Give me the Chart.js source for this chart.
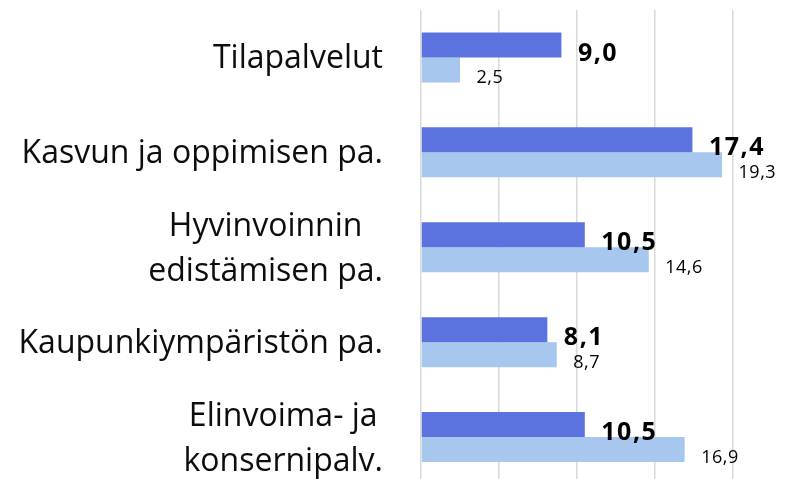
<!DOCTYPE html>
<html>
<head>
<meta charset="utf-8">
<script src="https://cdn.jsdelivr.net/npm/chart.js@4"></script>
<style>
  html, body { margin: 0; padding: 0; background: #fff; overflow: hidden; }
  #wrap { width: 805px; height: 479px; overflow: hidden; }
</style>
</head>
<body>
<div id="wrap"><canvas id="chart" width="812" height="485"></canvas></div>
<script>
// ── データ ──────────────────────────────────────────────
const categories = [
  ["Tilapalvelut"],
  ["Kasvun ja oppimisen pa."],
  ["Hyvinvoinnin", "edistämisen pa."],
  ["Kaupunkiympäristön pa."],
  ["Elinvoima- ja", "konsernipalv."],
];
const seriesA = [9.0, 17.4, 10.5, 8.1, 10.5];   // 濃い青
const seriesB = [2.5, 19.3, 14.6, 8.7, 16.9];   // 薄い青
const xTicks  = [0, 5, 10, 15, 20, 25];

const FONT = "'Open Sans', Lato, sans-serif";

// ── カテゴリラベル（複数行は中央揃え、右端揃え） ───────────
const catLabelPlugin = {
  id: "catLabels",
  afterDraw(c) {
    const ctx = c.ctx;
    const y = c.scales.y;
    const right = 383;
    const lineH = 45;
    ctx.save();
    ctx.font = `32px ${FONT}`;
    ctx.fillStyle = "#0d0d0d";
    ctx.textAlign = "center";
    ctx.textBaseline = "alphabetic";
    categories.forEach((lines, i) => {
      const cy = y.getPixelForTick(i);
      const w = Math.max(...lines.map((s) => ctx.measureText(s).width));
      const cx = right - w / 2;
      lines.forEach((s, j) => {
        const by = cy + 11 + (j - (lines.length - 1) / 2) * lineH;
        ctx.fillText(s, cx, by);
      });
    });
    ctx.restore();
  },
};

// ── 値ラベル ────────────────────────────────────────────
const valueLabelPlugin = {
  id: "valueLabels",
  afterDatasetsDraw(c) {
    const ctx = c.ctx;
    ctx.save();
    ctx.textAlign = "left";
    ctx.textBaseline = "middle";
    ctx.fillStyle = "#000";
    c.data.datasets.forEach((ds, di) => {
      const meta = c.getDatasetMeta(di);
      ctx.font = di === 0 ? `bold 25px ${FONT}` : `18px ${FONT}`;
      ctx.letterSpacing = di === 0 ? "1.5px" : "0.5px";
      const dy = di === 0 ? 8.5 : 8;
      meta.data.forEach((bar, i) => {
        const txt = ds.data[i].toFixed(1).replace(".", ",");
        ctx.fillText(txt, bar.x + 16.5, bar.y + dy);
      });
    });
    ctx.restore();
  },
};

new Chart(document.getElementById("chart"), {
  type: "bar",
  plugins: [catLabelPlugin, valueLabelPlugin],
  data: {
    labels: categories,
    datasets: [
      { data: seriesA, backgroundColor: "#5b72df", borderWidth: 0 },
      { data: seriesB, backgroundColor: "#a8c7ee", borderWidth: 0 },
    ],
  },
  options: {
    indexAxis: "y",
    responsive: false,
    animation: false,
    categoryPercentage: 0.527,
    barPercentage: 1,
    layout: { padding: { top: 10, right: 1, bottom: 0.5, left: 0 } },
    plugins: { legend: { display: false }, tooltip: { enabled: false } },
    scales: {
      x: {
        min: 0,
        max: 25,
        afterBuildTicks: (s) => { s.ticks = xTicks.map((v) => ({ value: v })); },
        ticks: { display: false },
        grid: { color: "#d9d9d9", lineWidth: 1.5, drawTicks: false },
        border: { display: false },
      },
      y: {
        ticks: { display: false },
        grid: { display: false },
        border: { display: false },
        afterFit: (s) => { s.width = 421; },
      },
    },
  },
});
</script>
</body>
</html>
